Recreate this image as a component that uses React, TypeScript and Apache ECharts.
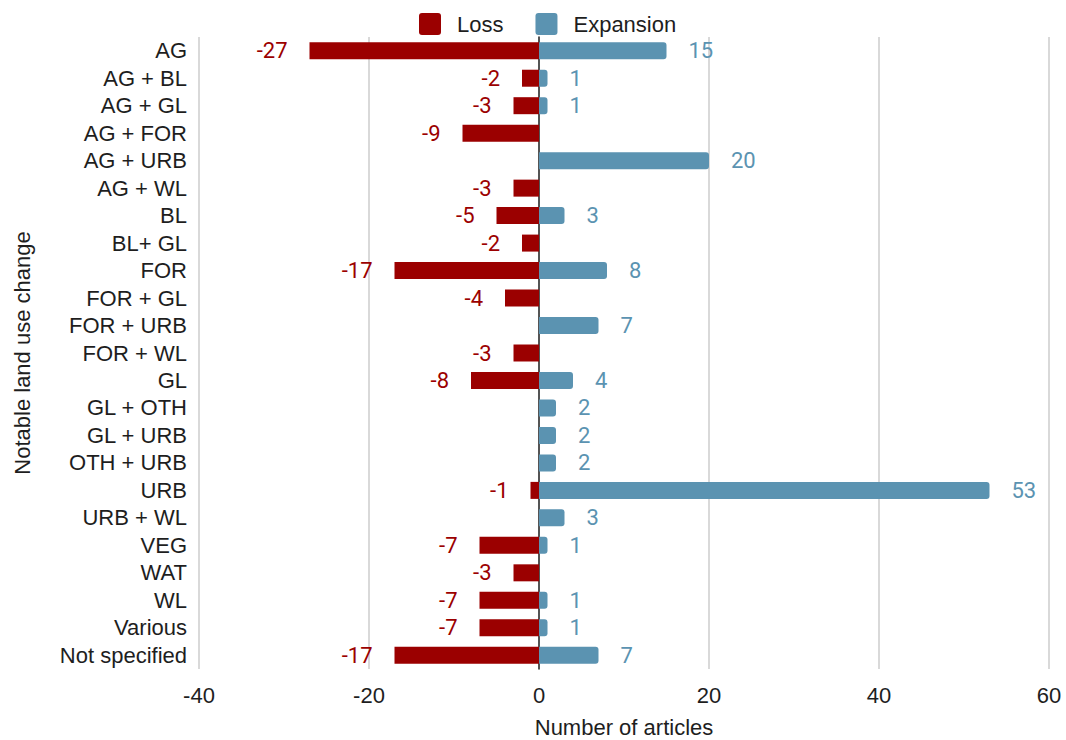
import React, { useEffect, useRef } from "react";
import * as echarts from "echarts";

const categories = [
  "AG", "AG + BL", "AG + GL", "AG + FOR", "AG + URB", "AG + WL", "BL", "BL+ GL",
  "FOR", "FOR + GL", "FOR + URB", "FOR + WL", "GL", "GL + OTH", "GL + URB",
  "OTH + URB", "URB", "URB + WL", "VEG", "WAT", "WL", "Various", "Not specified",
];
const lossValues = [
  -27, -2, -3, -9, null, -3, -5, -2, -17, -4, null, -3, -8, null, null, null,
  -1, null, -7, -3, -7, -7, -17,
];
const expansionValues = [
  15, 1, 1, null, 20, null, 3, null, 8, null, 7, null, 4, 2, 2, 2, 53, 3, 1,
  null, 1, 1, 7,
];
const xTicks = { min: -40, max: 60, interval: 20 };

const RED = "#9b0000";
const BLUE = "#5b93b1";
const FONT = "Liberation Sans";
const LABEL_FONT = "Roboto";
const TEXT = "#1e1e1e";
const SQUARE = "path://M3,0 H19 Q22,0 22,3 V19 Q22,22 19,22 H3 Q0,22 0,19 V3 Q0,0 3,0 Z";

export default function App() {
  const ref = useRef<HTMLDivElement>(null);
  useEffect(() => {
    if (!ref.current) return;
    const chart = echarts.init(ref.current, null, { renderer: "svg" });
    chart.setOption({
      animation: false,
      textStyle: { fontFamily: FONT },
      legend: {
        left: 414,
        top: 8,
        itemWidth: 22,
        itemHeight: 22,
        itemGap: 32,
        textStyle: { fontSize: 22, color: TEXT, fontFamily: FONT, padding: [0, 0, 0, 11] },
        data: [
          { name: "Loss", icon: SQUARE },
          { name: "Expansion", icon: SQUARE },
        ],
      },
      grid: {
        left: 199,
        right: 17,
        top: 37,
        bottom: 71,
        containLabel: false,
        outerBoundsMode: "none",
      },
      xAxis: {
        type: "value",
        min: xTicks.min,
        max: xTicks.max,
        interval: xTicks.interval,
        name: "Number of articles",
        nameLocation: "middle",
        nameGap: 47,
        nameTextStyle: { fontSize: 22, color: TEXT, fontFamily: FONT },
        axisLabel: { fontSize: 22, color: TEXT, margin: 15, fontFamily: FONT },
        axisLine: { show: false },
        axisTick: { show: false },
        splitLine: { lineStyle: { color: "#d0d0d0", width: 1.6 } },
      },
      yAxis: [
        {
          type: "category",
          data: categories,
          inverse: true,
          name: "Notable land use change",
          nameLocation: "middle",
          nameGap: 166,
          nameRotate: 90,
          nameTextStyle: { fontSize: 22, color: TEXT, fontFamily: FONT },
          axisLabel: { fontSize: 22, color: TEXT, margin: 12, fontFamily: FONT, interval: 0 },
          axisLine: { show: false, onZero: false },
          axisTick: { show: false },
        },
        {
          type: "category",
          data: categories,
          inverse: true,
          position: "left",
          axisLine: { show: true, onZero: true, lineStyle: { color: "#333", width: 1.6 } },
          axisLabel: { show: false },
          axisTick: { show: false },
        },
      ],
      series: [
        {
          name: "Loss",
          type: "bar",
          stack: "total",
          barWidth: 17,
          data: lossValues,
          itemStyle: { color: RED },
          label: {
            show: true,
            position: "left",
            distance: 22,
            color: RED,
            fontSize: 22,
            fontFamily: LABEL_FONT,
          },
        },
        {
          name: "Expansion",
          type: "bar",
          stack: "total",
          barWidth: 17,
          data: expansionValues,
          itemStyle: { color: BLUE, borderRadius: [0, 3, 3, 0] },
          label: {
            show: true,
            position: "right",
            distance: 22,
            color: BLUE,
            fontSize: 22,
            fontFamily: LABEL_FONT,
          },
        },
      ],
    });
    return () => chart.dispose();
  }, []);
  return (
    <div
      ref={ref}
      style={{ position: "absolute", left: 0, top: 0, width: 1066, height: 740 }}
    />
  );
}
